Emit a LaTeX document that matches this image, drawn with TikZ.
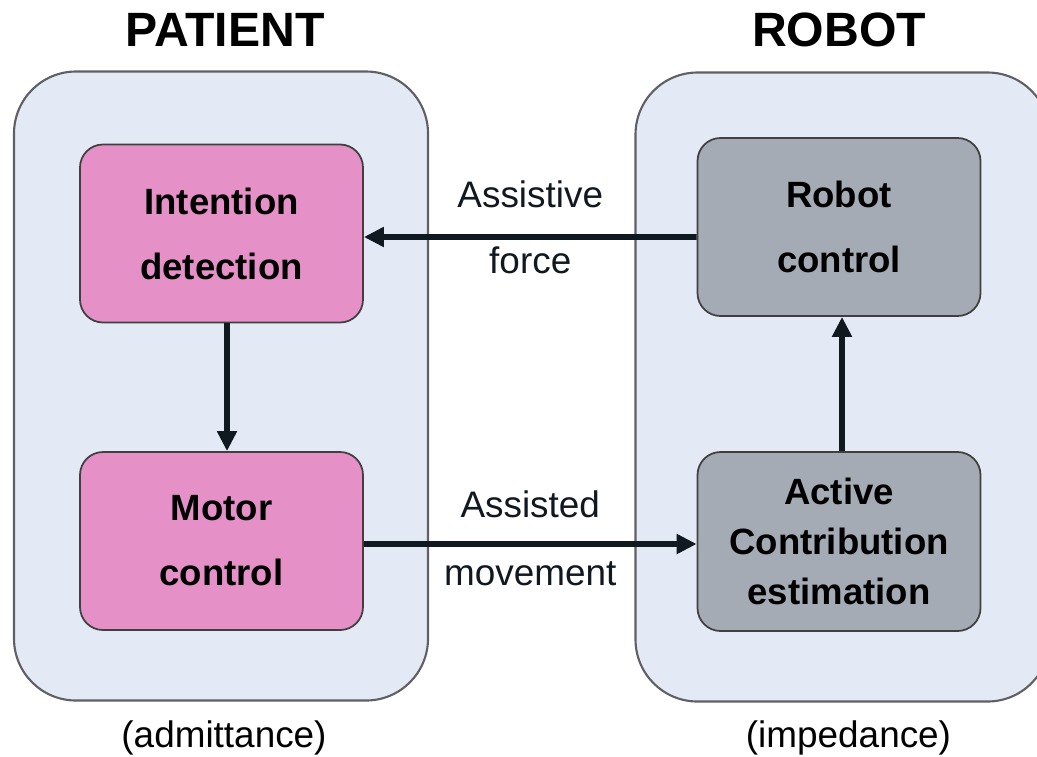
\documentclass[tikz,border=0pt]{standalone}
\usepackage{fontspec}
\setmainfont{Liberation Sans}
\usepackage{tikz}
\usetikzlibrary{shapes, arrows.meta, positioning}
\usepackage{xcolor}

\definecolor{sidebg}{RGB}{227,234,245}
\definecolor{sideline}{RGB}{95,95,100}
\definecolor{patientpink}{RGB}{229,145,200}
\definecolor{robotgray}{RGB}{165,171,181}
\definecolor{arrowdark}{RGB}{16,24,32}

\begin{document}
\begin{tikzpicture}[
        side/.style={draw=sideline, line width=0.6pt, rectangle, rounded corners=0.62cm, fill=sidebg, minimum width=4.14cm, minimum height=6.29cm},
        block/.style={draw=black!75, line width=0.5pt, rectangle, rounded corners=0.23cm, minimum width=2.83cm, minimum height=1.78cm, align=center, font=\fontsize{10.4}{12.4}\selectfont\bfseries},
        title/.style={font=\fontsize{13.7}{16}\selectfont\bfseries},
        note/.style={font=\fontsize{10.5}{12.5}\selectfont},
        flow/.style={-{Triangle[length=2mm, width=1.9mm]}, line width=1.6pt, arrowdark}
    ]

        \useasboundingbox (0,0) rectangle (10.37,-7.56);
        \clip (0,0) rectangle (10.37,-7.56);

        % Side containers
        \node[side] (patient) at (2.21,-3.86) {};
        \node[side] (robot) at (8.425,-3.87) {};

        % Headings and modes
        \node[title] (patienttitle) at (2.25,-0.30) {PATIENT};
        \node[title] (robottitle) at (8.39,-0.30) {ROBOT};
        \node[note] (admit) at (2.24,-7.38) {(admittance)};
        \node[note] (imped) at (8.485,-7.38) {(impedance)};

        % Blocks
        \node[block, fill=patientpink] (intent) at (2.215,-2.335) {Intention\\[6.1pt]detection};
        \node[block, fill=patientpink] (motor) at (2.215,-5.41) {Motor\\[6.1pt]control};
        \node[block, fill=robotgray] (rctrl) at (8.39,-2.27) {Robot\\[6.1pt]control};
        \node[block, fill=robotgray, minimum height=1.79cm] (acest) at (8.39,-5.415) {Active\\[1.8pt]Contribution\\[1.8pt]estimation};

        % Arrows and labels
        \draw[flow] ([yshift=-0.1cm]rctrl.west) -- node[note, anchor=base, yshift=0.30cm] {Assistive} node[note, anchor=base, yshift=-0.36cm] {force} ([yshift=-0.035cm]intent.east);
        \draw[flow] ([yshift=-0.03cm]motor.east) -- node[note, anchor=base, yshift=0.27cm] {Assisted} node[note, anchor=base, yshift=-0.41cm] {movement} ([yshift=-0.025cm]acest.west);
        \draw[flow] ([xshift=0.055cm]intent.south) -- ([xshift=0.055cm]motor.north);
        \draw[flow] ([xshift=0.03cm]acest.north) -- ([xshift=0.03cm]rctrl.south);

    \end{tikzpicture}
\end{document}
